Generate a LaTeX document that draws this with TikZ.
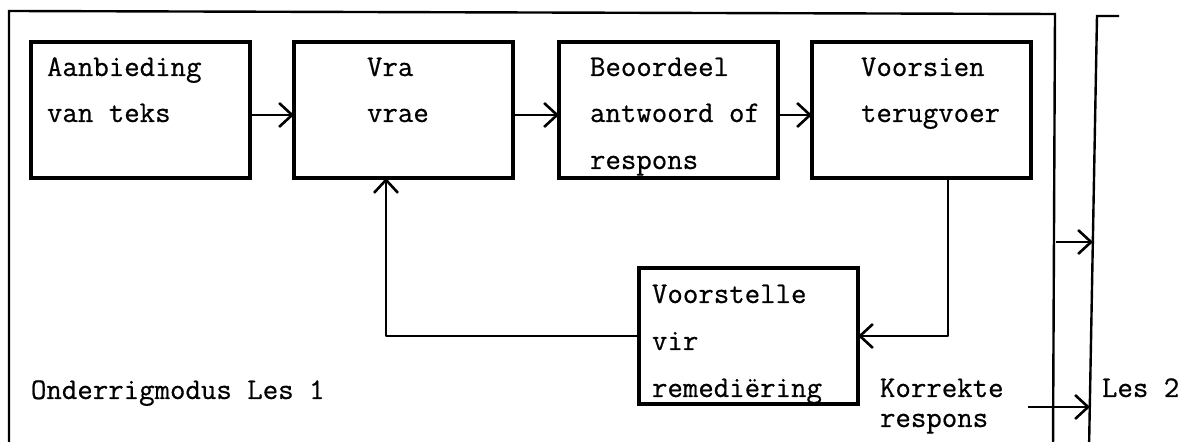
\documentclass[tikz,border=0pt]{standalone}
\usepackage{fontspec}
\setmonofont{Latin Modern Mono}[FakeBold=0.6]
\usetikzlibrary{arrows.meta,calc}
\tikzset{
  box/.style={draw, line width=1.7pt, minimum width=109.5pt, minimum height=68pt,
              inner sep=0pt, outer sep=0pt},
  txt/.style={anchor=base west, inner sep=0pt, outer sep=0pt,
              font=\fontsize{15}{18}\selectfont\ttfamily},
  flow/.style={line width=1.3pt, line join=round,
               -{Straight Barb[length=6.5pt,width=12pt,line width=1.3pt]}},
  rim/.style={line width=1.2pt, line join=miter},
}
\begin{document}
\begin{tikzpicture}[x=0.5pt,y=-0.5pt]
\useasboundingbox (0,0) rectangle (1195,442);
\clip (0,0) rectangle (1195,442);

% process boxes
\node[box] (a) at (140.5,110) {};
\node[box] (b) at (403.5,110) {};
\node[box] (c) at (668.5,110) {};
\node[box] (d) at (921.5,110) {};
\node[box] (e) at (748.5,336) {};

% box texts
\node[txt] (a1) at ($(a.north west)+(16,34)$) {Aanbieding};
\node[txt] (a2) at ($(a.north west)+(16,80)$) {van teks};
\node[txt] (b1) at ($(b.north west)+(73,34)$) {Vra};
\node[txt] (b2) at ($(b.north west)+(73,80)$) {vrae};
\node[txt] (c1) at ($(c.north west)+(31,34)$) {Beoordeel};
\node[txt] (c2) at ($(c.north west)+(31,80)$) {antwoord of};
\node[txt] (c3) at ($(c.north west)+(31,127)$) {respons};
\node[txt] (d1) at ($(d.north west)+(49,34)$) {Voorsien};
\node[txt] (d2) at ($(d.north west)+(49,80)$) {terugvoer};
\node[txt] (e1) at ($(e.north west)+(13,35)$) {Voorstelle};
\node[txt] (e2) at ($(e.north west)+(13,82)$) {vir};
\node[txt] (e3) at ($(e.north west)+(13,129)$) {remediëring};

% free labels
\node[txt] (mode) at (31,399) {Onderrigmodus Les 1};
\node[txt] (ok1) at (880,397) {Korrekte};
\node[txt] (ok2) at (880,427) {respons};
\node[txt] (les2) at (1102,397) {Les 2};

% lesson 1 frame (open at the bottom)
\coordinate (fr-bl) at (9,450);
\coordinate (fr-tl) at (9,11);
\coordinate (fr-tr) at (1055,14);
\coordinate (fr-br) at (1053,450);
\draw[rim] (fr-bl) -- (fr-tl) -- (fr-tr) -- (fr-br);

% lesson 2 bracket
\coordinate (br-tick) at (1119,16);
\coordinate (br-top) at (1097,16);
\coordinate (br-bot) at (1089,450);
\draw[rim] (br-tick) -- (br-top) -- (br-bot);

% main sequence
\draw[flow] ([yshift=-2.5pt]a.east) -- ([yshift=-2.5pt]b.west);
\draw[flow] ([yshift=-2.5pt]b.east) -- ([yshift=-2.5pt]c.west);
\draw[flow] ([yshift=-2.5pt]c.east) -- ([yshift=-2.5pt]d.west);

% remediation loop
\draw[flow] ($(d.south)+(26.5,0)$) |- (e.east);
\draw[flow] (e.west) -| ($(b.south)+(-17.5,0)$);

% exits to lesson 2
\coordinate (x1-from) at (1056,242);
\coordinate (x1-to) at (1093,242);
\draw[flow] (x1-from) -- (x1-to);
\coordinate (x2-from) at (1028,407);
\coordinate (x2-to) at (1090,407);
\draw[flow] (x2-from) -- (x2-to);
\end{tikzpicture}
\end{document}
